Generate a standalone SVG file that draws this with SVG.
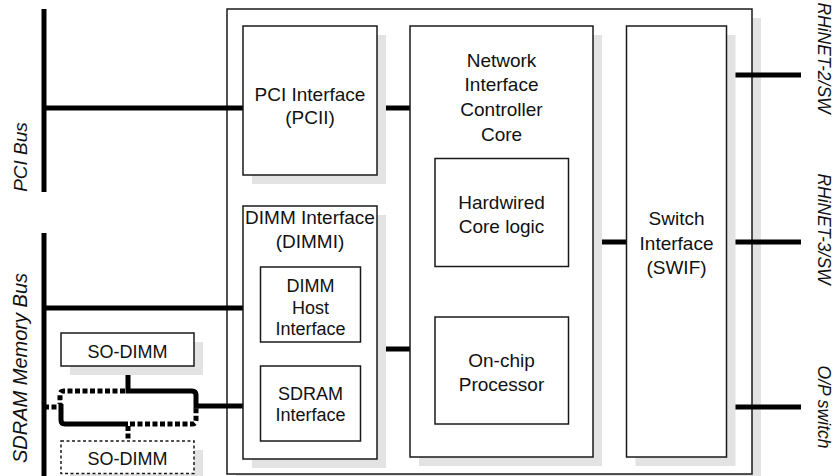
<svg xmlns="http://www.w3.org/2000/svg" width="833" height="476" viewBox="0 0 833 476">
  <style>
    .shadow { fill: #e3e3e3; }
    .box { fill: #ffffff; stroke: #1a1a1a; stroke-width: 1.5; }
    .box.dashed { stroke-dasharray: 3 2.5; }
    .wire { fill: none; stroke: #000000; stroke-width: 5; }
    .wire.alt { stroke-dasharray: 5 2.5; }
    text { font-family: "Liberation Sans", Arial, Helvetica, sans-serif; font-size: 19px; fill: #111111; text-anchor: middle; }
    text.small { font-size: 18px; }
    text.side { font-style: italic; }
    text.link { font-size: 17.5px; }
  </style>

  <rect width="833" height="476" fill="#ffffff"/>

  <!-- board outline -->
  <g id="board">
    <rect class="shadow" x="236" y="18" width="525" height="465"/>
    <rect class="box" x="227" y="9" width="525" height="465"/>
  </g>

  <!-- connectors -->
  <g id="connectors">
    <path class="wire" d="M44,9 V192"/>
    <path class="wire" d="M44,233 V476"/>
    <path class="wire" d="M44,108 H243"/>
    <path class="wire" d="M377,108 H410"/>
    <path class="wire" d="M44,308 H260.5"/>
    <path class="wire" d="M377,349 H410"/>
    <path class="wire" d="M593,242 H626.5"/>
    <path class="wire" d="M726.5,75 H801"/>
    <path class="wire" d="M726.5,242 H801"/>
    <path class="wire" d="M726.5,407 H801"/>
    <!-- SO-DIMM wiring: solid runs -->
    <path class="wire" d="M128,366 V391 H192 Q196,391 196,395 V406 H260.5"/>
    <path class="wire" d="M61,404 V420 Q61,424 65,424 H128"/>
    <!-- SO-DIMM wiring: alternative runs -->
    <path class="wire alt" d="M125,391 H64 Q60,391 60,395 V404"/>
    <path class="wire alt" d="M44,407 H60"/>
    <path class="wire alt" d="M130,424 H192 Q196,424 196,420 V408"/>
    <path class="wire alt" d="M128,426 V441"/>
  </g>

  <g id="pcii">
    <rect class="shadow" x="252" y="35" width="134" height="149"/>
    <rect class="box" x="243" y="26" width="134" height="149"/>
    <text x="310" y="101">PCI Interface</text>
    <text x="310" y="124">(PCII)</text>
  </g>

  <g id="nic-core">
    <rect class="shadow" x="419" y="35" width="183" height="431"/>
    <rect class="box" x="410" y="26" width="183" height="431"/>
    <text x="501.5" y="66.5">Network</text>
    <text x="501.5" y="91.3">Interface</text>
    <text x="501.5" y="116.1">Controller</text>
    <text x="501.5" y="141">Core</text>
  </g>

  <g id="hardwired">
    <rect class="box" x="435" y="158.5" width="133.5" height="108"/>
    <text x="501.5" y="209">Hardwired</text>
    <text x="501.5" y="233">Core logic</text>
  </g>

  <g id="processor">
    <rect class="box" x="435" y="317" width="133.5" height="107"/>
    <text x="501.5" y="366.5">On-chip</text>
    <text x="501.5" y="391">Processor</text>
  </g>

  <g id="swif">
    <rect class="shadow" x="635.5" y="35" width="100" height="431"/>
    <rect class="box" x="626.5" y="26" width="100" height="431"/>
    <text x="676.5" y="225">Switch</text>
    <text x="676.5" y="249.5">Interface</text>
    <text x="676.5" y="274">(SWIF)</text>
  </g>

  <g id="dimmi">
    <rect class="shadow" x="252" y="215" width="134" height="253"/>
    <rect class="box" x="243" y="206" width="134" height="253"/>
    <text x="310" y="224">DIMM Interface</text>
    <text x="310" y="248">(DIMMI)</text>
  </g>

  <g id="dimm-host">
    <rect class="box" x="260.5" y="267" width="100" height="75"/>
    <text class="small" x="310.5" y="292">DIMM</text>
    <text class="small" x="310.5" y="313.5">Host</text>
    <text class="small" x="310.5" y="335">Interface</text>
  </g>

  <g id="sdram-if">
    <rect class="box" x="260.5" y="366" width="100" height="75"/>
    <text class="small" x="310.5" y="400">SDRAM</text>
    <text class="small" x="310.5" y="421">Interface</text>
  </g>

  <g id="so-dimm-1">
    <rect class="shadow" x="70" y="342" width="133" height="33"/>
    <rect class="box" x="61" y="333" width="133" height="33"/>
    <text class="small" x="127.5" y="357.5">SO-DIMM</text>
  </g>

  <g id="so-dimm-2">
    <rect class="shadow" x="70" y="450" width="133" height="33"/>
    <rect class="box dashed" x="61" y="441" width="133" height="32.5"/>
    <text class="small" x="127.5" y="464.5">SO-DIMM</text>
  </g>

  <!-- bus and link labels -->
  <g id="labels">
    <text class="side" transform="translate(26.5,157) rotate(-90)">PCI Bus</text>
    <text class="side" style="font-size:20px" transform="translate(26.5,368) rotate(-90)">SDRAM Memory Bus</text>
    <text class="side link" transform="translate(818,58) rotate(90)">RHiNET-2/SW</text>
    <text class="side link" transform="translate(818,229) rotate(90)">RHiNET-3/SW</text>
    <text class="side link" transform="translate(818,407) rotate(90)">O/P switch</text>
  </g>
</svg>
